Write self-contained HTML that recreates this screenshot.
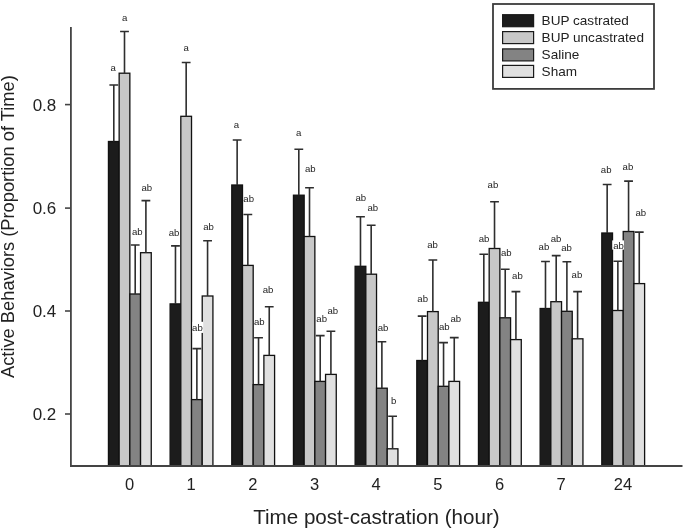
<!DOCTYPE html>
<html><head><meta charset="utf-8"><style>
html,body{margin:0;padding:0;background:#fff;}
svg{display:block;filter:grayscale(1);}
text{font-family:"Liberation Sans",sans-serif;fill:#222;}
</style></head><body>
<svg width="685" height="530" viewBox="0 0 685 530">
<rect x="108.45" y="141.50" width="10.70" height="324.50" fill="#1c1c1c" stroke="#111" stroke-width="1.3"/>
<rect x="119.15" y="73.20" width="10.70" height="392.80" fill="#c8c8c8" stroke="#111" stroke-width="1.3"/>
<rect x="129.85" y="294.00" width="10.70" height="172.00" fill="#838383" stroke="#111" stroke-width="1.3"/>
<rect x="140.55" y="252.70" width="10.70" height="213.30" fill="#e0e0e0" stroke="#111" stroke-width="1.3"/>
<rect x="170.12" y="303.90" width="10.70" height="162.10" fill="#1c1c1c" stroke="#111" stroke-width="1.3"/>
<rect x="180.82" y="116.30" width="10.70" height="349.70" fill="#c8c8c8" stroke="#111" stroke-width="1.3"/>
<rect x="191.52" y="399.60" width="10.70" height="66.40" fill="#838383" stroke="#111" stroke-width="1.3"/>
<rect x="202.22" y="296.00" width="10.70" height="170.00" fill="#e0e0e0" stroke="#111" stroke-width="1.3"/>
<rect x="231.79" y="185.00" width="10.70" height="281.00" fill="#1c1c1c" stroke="#111" stroke-width="1.3"/>
<rect x="242.49" y="265.40" width="10.70" height="200.60" fill="#c8c8c8" stroke="#111" stroke-width="1.3"/>
<rect x="253.19" y="384.60" width="10.70" height="81.40" fill="#838383" stroke="#111" stroke-width="1.3"/>
<rect x="263.89" y="355.40" width="10.70" height="110.60" fill="#e0e0e0" stroke="#111" stroke-width="1.3"/>
<rect x="293.46" y="195.20" width="10.70" height="270.80" fill="#1c1c1c" stroke="#111" stroke-width="1.3"/>
<rect x="304.16" y="236.50" width="10.70" height="229.50" fill="#c8c8c8" stroke="#111" stroke-width="1.3"/>
<rect x="314.86" y="381.40" width="10.70" height="84.60" fill="#838383" stroke="#111" stroke-width="1.3"/>
<rect x="325.56" y="374.40" width="10.70" height="91.60" fill="#e0e0e0" stroke="#111" stroke-width="1.3"/>
<rect x="355.13" y="266.30" width="10.70" height="199.70" fill="#1c1c1c" stroke="#111" stroke-width="1.3"/>
<rect x="365.83" y="274.20" width="10.70" height="191.80" fill="#c8c8c8" stroke="#111" stroke-width="1.3"/>
<rect x="376.53" y="388.20" width="10.70" height="77.80" fill="#838383" stroke="#111" stroke-width="1.3"/>
<rect x="387.23" y="448.80" width="10.70" height="17.20" fill="#e0e0e0" stroke="#111" stroke-width="1.3"/>
<rect x="416.80" y="360.50" width="10.70" height="105.50" fill="#1c1c1c" stroke="#111" stroke-width="1.3"/>
<rect x="427.50" y="311.60" width="10.70" height="154.40" fill="#c8c8c8" stroke="#111" stroke-width="1.3"/>
<rect x="438.20" y="386.30" width="10.70" height="79.70" fill="#838383" stroke="#111" stroke-width="1.3"/>
<rect x="448.90" y="381.40" width="10.70" height="84.60" fill="#e0e0e0" stroke="#111" stroke-width="1.3"/>
<rect x="478.47" y="302.30" width="10.70" height="163.70" fill="#1c1c1c" stroke="#111" stroke-width="1.3"/>
<rect x="489.17" y="248.50" width="10.70" height="217.50" fill="#c8c8c8" stroke="#111" stroke-width="1.3"/>
<rect x="499.87" y="317.80" width="10.70" height="148.20" fill="#838383" stroke="#111" stroke-width="1.3"/>
<rect x="510.57" y="339.60" width="10.70" height="126.40" fill="#e0e0e0" stroke="#111" stroke-width="1.3"/>
<rect x="540.14" y="308.50" width="10.70" height="157.50" fill="#1c1c1c" stroke="#111" stroke-width="1.3"/>
<rect x="550.84" y="301.70" width="10.70" height="164.30" fill="#c8c8c8" stroke="#111" stroke-width="1.3"/>
<rect x="561.54" y="311.30" width="10.70" height="154.70" fill="#838383" stroke="#111" stroke-width="1.3"/>
<rect x="572.24" y="338.80" width="10.70" height="127.20" fill="#e0e0e0" stroke="#111" stroke-width="1.3"/>
<rect x="601.81" y="233.00" width="10.70" height="233.00" fill="#1c1c1c" stroke="#111" stroke-width="1.3"/>
<rect x="612.51" y="310.50" width="10.70" height="155.50" fill="#c8c8c8" stroke="#111" stroke-width="1.3"/>
<rect x="623.21" y="231.50" width="10.70" height="234.50" fill="#838383" stroke="#111" stroke-width="1.3"/>
<rect x="633.91" y="283.60" width="10.70" height="182.40" fill="#e0e0e0" stroke="#111" stroke-width="1.3"/>
<path d="M113.80 141.50V85.00M109.40 85.00H118.20" stroke="#2e2e2e" stroke-width="1.6" fill="none"/>
<path d="M124.50 73.20V31.50M120.10 31.50H128.90" stroke="#2e2e2e" stroke-width="1.6" fill="none"/>
<path d="M135.20 294.00V245.00M130.80 245.00H139.60" stroke="#2e2e2e" stroke-width="1.6" fill="none"/>
<path d="M145.90 252.70V200.60M141.50 200.60H150.30" stroke="#2e2e2e" stroke-width="1.6" fill="none"/>
<path d="M175.47 303.90V245.90M171.07 245.90H179.87" stroke="#2e2e2e" stroke-width="1.6" fill="none"/>
<path d="M186.17 116.30V62.50M181.77 62.50H190.57" stroke="#2e2e2e" stroke-width="1.6" fill="none"/>
<path d="M196.87 399.60V348.60M192.47 348.60H201.27" stroke="#2e2e2e" stroke-width="1.6" fill="none"/>
<path d="M207.57 296.00V240.80M203.17 240.80H211.97" stroke="#2e2e2e" stroke-width="1.6" fill="none"/>
<path d="M237.14 185.00V140.00M232.74 140.00H241.54" stroke="#2e2e2e" stroke-width="1.6" fill="none"/>
<path d="M247.84 265.40V214.50M243.44 214.50H252.24" stroke="#2e2e2e" stroke-width="1.6" fill="none"/>
<path d="M258.54 384.60V337.80M254.14 337.80H262.94" stroke="#2e2e2e" stroke-width="1.6" fill="none"/>
<path d="M269.24 355.40V306.70M264.84 306.70H273.64" stroke="#2e2e2e" stroke-width="1.6" fill="none"/>
<path d="M298.81 195.20V149.20M294.41 149.20H303.21" stroke="#2e2e2e" stroke-width="1.6" fill="none"/>
<path d="M309.51 236.50V187.70M305.11 187.70H313.91" stroke="#2e2e2e" stroke-width="1.6" fill="none"/>
<path d="M320.21 381.40V335.60M315.81 335.60H324.61" stroke="#2e2e2e" stroke-width="1.6" fill="none"/>
<path d="M330.91 374.40V331.30M326.51 331.30H335.31" stroke="#2e2e2e" stroke-width="1.6" fill="none"/>
<path d="M360.48 266.30V216.70M356.08 216.70H364.88" stroke="#2e2e2e" stroke-width="1.6" fill="none"/>
<path d="M371.18 274.20V225.20M366.78 225.20H375.58" stroke="#2e2e2e" stroke-width="1.6" fill="none"/>
<path d="M381.88 388.20V341.80M377.48 341.80H386.28" stroke="#2e2e2e" stroke-width="1.6" fill="none"/>
<path d="M392.58 448.80V416.30M388.18 416.30H396.98" stroke="#2e2e2e" stroke-width="1.6" fill="none"/>
<path d="M422.15 360.50V316.10M417.75 316.10H426.55" stroke="#2e2e2e" stroke-width="1.6" fill="none"/>
<path d="M432.85 311.60V260.00M428.45 260.00H437.25" stroke="#2e2e2e" stroke-width="1.6" fill="none"/>
<path d="M443.55 386.30V342.60M439.15 342.60H447.95" stroke="#2e2e2e" stroke-width="1.6" fill="none"/>
<path d="M454.25 381.40V337.60M449.85 337.60H458.65" stroke="#2e2e2e" stroke-width="1.6" fill="none"/>
<path d="M483.82 302.30V254.20M479.42 254.20H488.22" stroke="#2e2e2e" stroke-width="1.6" fill="none"/>
<path d="M494.52 248.50V201.80M490.12 201.80H498.92" stroke="#2e2e2e" stroke-width="1.6" fill="none"/>
<path d="M505.22 317.80V269.20M500.82 269.20H509.62" stroke="#2e2e2e" stroke-width="1.6" fill="none"/>
<path d="M515.92 339.60V291.60M511.52 291.60H520.32" stroke="#2e2e2e" stroke-width="1.6" fill="none"/>
<path d="M545.49 308.50V261.50M541.09 261.50H549.89" stroke="#2e2e2e" stroke-width="1.6" fill="none"/>
<path d="M556.19 301.70V255.60M551.79 255.60H560.59" stroke="#2e2e2e" stroke-width="1.6" fill="none"/>
<path d="M566.89 311.30V261.80M562.49 261.80H571.29" stroke="#2e2e2e" stroke-width="1.6" fill="none"/>
<path d="M577.59 338.80V291.60M573.19 291.60H581.99" stroke="#2e2e2e" stroke-width="1.6" fill="none"/>
<path d="M607.16 233.00V184.50M602.76 184.50H611.56" stroke="#2e2e2e" stroke-width="1.6" fill="none"/>
<path d="M617.86 310.50V261.30M613.46 261.30H622.26" stroke="#2e2e2e" stroke-width="1.6" fill="none"/>
<path d="M628.56 231.50V181.10M624.16 181.10H632.96" stroke="#2e2e2e" stroke-width="1.6" fill="none"/>
<path d="M639.26 283.60V232.10M634.86 232.10H643.66" stroke="#2e2e2e" stroke-width="1.6" fill="none"/>
<rect x="612.2" y="240.4" width="11.8" height="9.2" fill="#fff"/>
<rect x="192.5" y="321.8" width="10.7" height="11.1" fill="#fff"/>
<text x="110.4" y="71.0" font-size="9.6">a</text>
<text x="122.0" y="21.0" font-size="9.6">a</text>
<text x="131.9" y="235.0" font-size="9.6">ab</text>
<text x="141.5" y="191.0" font-size="9.6">ab</text>
<text x="168.7" y="236.0" font-size="9.6">ab</text>
<text x="183.4" y="51.0" font-size="9.6">a</text>
<text x="192.1" y="331.0" font-size="9.6">ab</text>
<text x="203.2" y="230.0" font-size="9.6">ab</text>
<text x="233.8" y="128.0" font-size="9.6">a</text>
<text x="243.3" y="202.0" font-size="9.6">ab</text>
<text x="254.0" y="325.0" font-size="9.6">ab</text>
<text x="262.7" y="293.0" font-size="9.6">ab</text>
<text x="296.1" y="136.0" font-size="9.6">a</text>
<text x="304.9" y="172.0" font-size="9.6">ab</text>
<text x="316.3" y="322.0" font-size="9.6">ab</text>
<text x="327.5" y="314.0" font-size="9.6">ab</text>
<text x="355.5" y="201.0" font-size="9.6">ab</text>
<text x="367.5" y="211.0" font-size="9.6">ab</text>
<text x="377.7" y="331.0" font-size="9.6">ab</text>
<text x="390.9" y="404.0" font-size="9.6">b</text>
<text x="417.3" y="302.0" font-size="9.6">ab</text>
<text x="427.2" y="248.0" font-size="9.6">ab</text>
<text x="439.0" y="330.0" font-size="9.6">ab</text>
<text x="450.4" y="322.0" font-size="9.6">ab</text>
<text x="478.7" y="242.0" font-size="9.6">ab</text>
<text x="487.6" y="188.0" font-size="9.6">ab</text>
<text x="501.0" y="256.0" font-size="9.6">ab</text>
<text x="512.1" y="279.0" font-size="9.6">ab</text>
<text x="538.6" y="250.0" font-size="9.6">ab</text>
<text x="550.7" y="242.0" font-size="9.6">ab</text>
<text x="561.2" y="251.0" font-size="9.6">ab</text>
<text x="571.6" y="278.0" font-size="9.6">ab</text>
<text x="600.8" y="173.0" font-size="9.6">ab</text>
<text x="613.2" y="249.0" font-size="9.6">ab</text>
<text x="622.6" y="170.0" font-size="9.6">ab</text>
<text x="635.4" y="216.0" font-size="9.6">ab</text>
<path d="M70.9 27V466.0H682.5" stroke="#444" stroke-width="1.8" fill="none"/>
<path d="M65 104.6H70.9" stroke="#444" stroke-width="1.6"/>
<text x="56.3" y="110.8" font-size="17" text-anchor="end">0.8</text>
<path d="M65 208.1H70.9" stroke="#444" stroke-width="1.6"/>
<text x="56.3" y="214.3" font-size="17" text-anchor="end">0.6</text>
<path d="M65 311H70.9" stroke="#444" stroke-width="1.6"/>
<text x="56.3" y="317.2" font-size="17" text-anchor="end">0.4</text>
<path d="M65 414H70.9" stroke="#444" stroke-width="1.6"/>
<text x="56.3" y="420.2" font-size="17" text-anchor="end">0.2</text>
<text x="129.5" y="490.2" font-size="16.5" text-anchor="middle">0</text>
<text x="191.2" y="490.2" font-size="16.5" text-anchor="middle">1</text>
<text x="252.9" y="490.2" font-size="16.5" text-anchor="middle">2</text>
<text x="314.6" y="490.2" font-size="16.5" text-anchor="middle">3</text>
<text x="376.2" y="490.2" font-size="16.5" text-anchor="middle">4</text>
<text x="437.9" y="490.2" font-size="16.5" text-anchor="middle">5</text>
<text x="499.6" y="490.2" font-size="16.5" text-anchor="middle">6</text>
<text x="561.2" y="490.2" font-size="16.5" text-anchor="middle">7</text>
<text x="622.9" y="490.2" font-size="16.5" text-anchor="middle">24</text>
<text x="376.4" y="524.1" font-size="20.6" text-anchor="middle">Time post-castration (hour)</text>
<text transform="translate(13.9 226.6) rotate(-90)" x="0" y="0" font-size="18.3" text-anchor="middle">Active Behaviors (Proportion of Time)</text>
<rect x="493" y="4" width="161" height="84.9" fill="#fff" stroke="#3c3c3c" stroke-width="1.8"/>
<rect x="502.6" y="14.7" width="31" height="12" fill="#1c1c1c" stroke="#1a1a1a" stroke-width="1.2"/>
<text transform="translate(541.6 24.7) scale(1.045 1)" font-size="13">BUP castrated</text>
<rect x="502.6" y="31.6" width="31" height="12" fill="#c8c8c8" stroke="#1a1a1a" stroke-width="1.2"/>
<text transform="translate(541.6 41.7) scale(1.045 1)" font-size="13">BUP uncastrated</text>
<rect x="502.6" y="48.9" width="31" height="12" fill="#838383" stroke="#1a1a1a" stroke-width="1.2"/>
<text transform="translate(541.6 59) scale(1.045 1)" font-size="13">Saline</text>
<rect x="502.6" y="65.4" width="31" height="12" fill="#e0e0e0" stroke="#1a1a1a" stroke-width="1.2"/>
<text transform="translate(541.6 76) scale(1.045 1)" font-size="13">Sham</text>
</svg>
</body></html>
